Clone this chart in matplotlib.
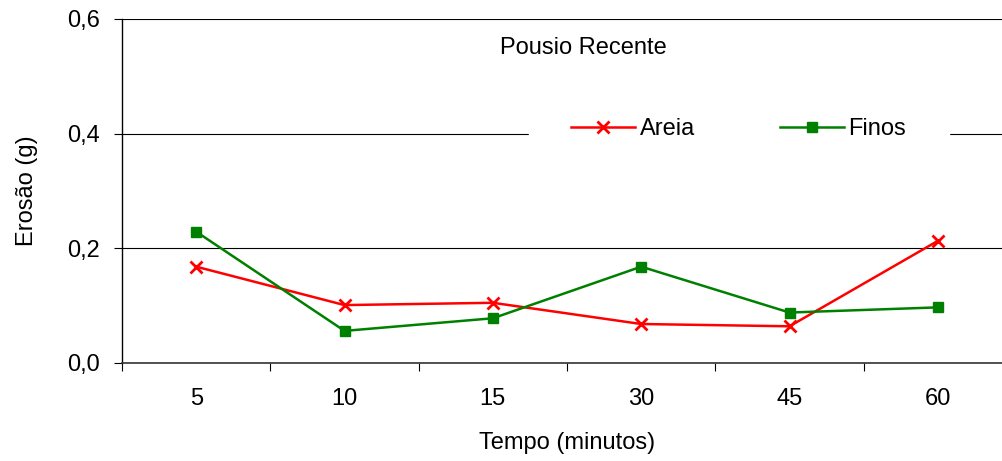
import matplotlib
matplotlib.use("Agg")
import matplotlib.pyplot as plt
import numpy as np

categories = ["5", "10", "15", "30", "45", "60"]
areia = [0.168, 0.101, 0.105, 0.068, 0.064, 0.213]
finos = [0.229, 0.056, 0.078, 0.168, 0.088, 0.097]
yticks = [0.0, 0.2, 0.4, 0.6]
ytick_labels = ["0,0", "0,2", "0,4", "0,6"]

plt.rcParams['font.family'] = ['Liberation Sans', 'DejaVu Sans']
FS = 17

fig = plt.figure(figsize=(10.02, 4.61), dpi=100)
ax = fig.add_axes([0.1218, 0.2126, 0.8882, 0.7462])

x = np.arange(len(categories))
ax.plot(x, areia, color='#ff0000', lw=1.8, marker='x', markersize=9, mew=2, label='Areia', zorder=3)
ax.plot(x, finos, color='#008000', lw=1.8, marker='s', markersize=6.5, label='Finos', zorder=3)

ax.set_xlim(-0.5, len(categories) - 0.5)
ax.set_ylim(0, 0.6)
ax.set_yticks(yticks)
ax.set_yticklabels(ytick_labels, fontsize=FS)
ax.set_xticks(x)
ax.set_xticklabels(categories, fontsize=FS)
ax.set_xticks(np.arange(-0.5, len(categories), 1.0), minor=True)
ax.tick_params(axis='x', which='major', length=0, pad=18)
ax.tick_params(axis='x', which='minor', length=6, width=0.8, color='black')
ax.tick_params(axis='y', length=6, width=0.8, pad=10)

ax.grid(axis='y', color='black', lw=0.8, zorder=0)
for s in ['top', 'right']:
    ax.spines[s].set_visible(False)
ax.spines['left'].set_linewidth(1.0)
ax.spines['bottom'].set_linewidth(1.2)
ax.spines['bottom'].set_color('#333333')

ax.set_ylabel('Erosão (g)', fontsize=FS, labelpad=21)
ax.set_xlabel('Tempo (minutos)', fontsize=FS, labelpad=16)

ax.text(0.518, 0.915, 'Pousio Recente', transform=ax.transAxes, fontsize=FS,
        ha='center', va='center')

leg = ax.legend(loc='center', bbox_to_anchor=(0.693, 0.68), ncol=2, frameon=True,
                fontsize=FS, handlelength=2.7, columnspacing=3.6, handletextpad=0.2,
                borderpad=1.8)
leg.get_frame().set_edgecolor('white')
leg.get_frame().set_facecolor('white')
leg.get_frame().set_alpha(1)
leg.get_frame().set_boxstyle('square', pad=0)

fig.savefig('out.png', dpi=100)
